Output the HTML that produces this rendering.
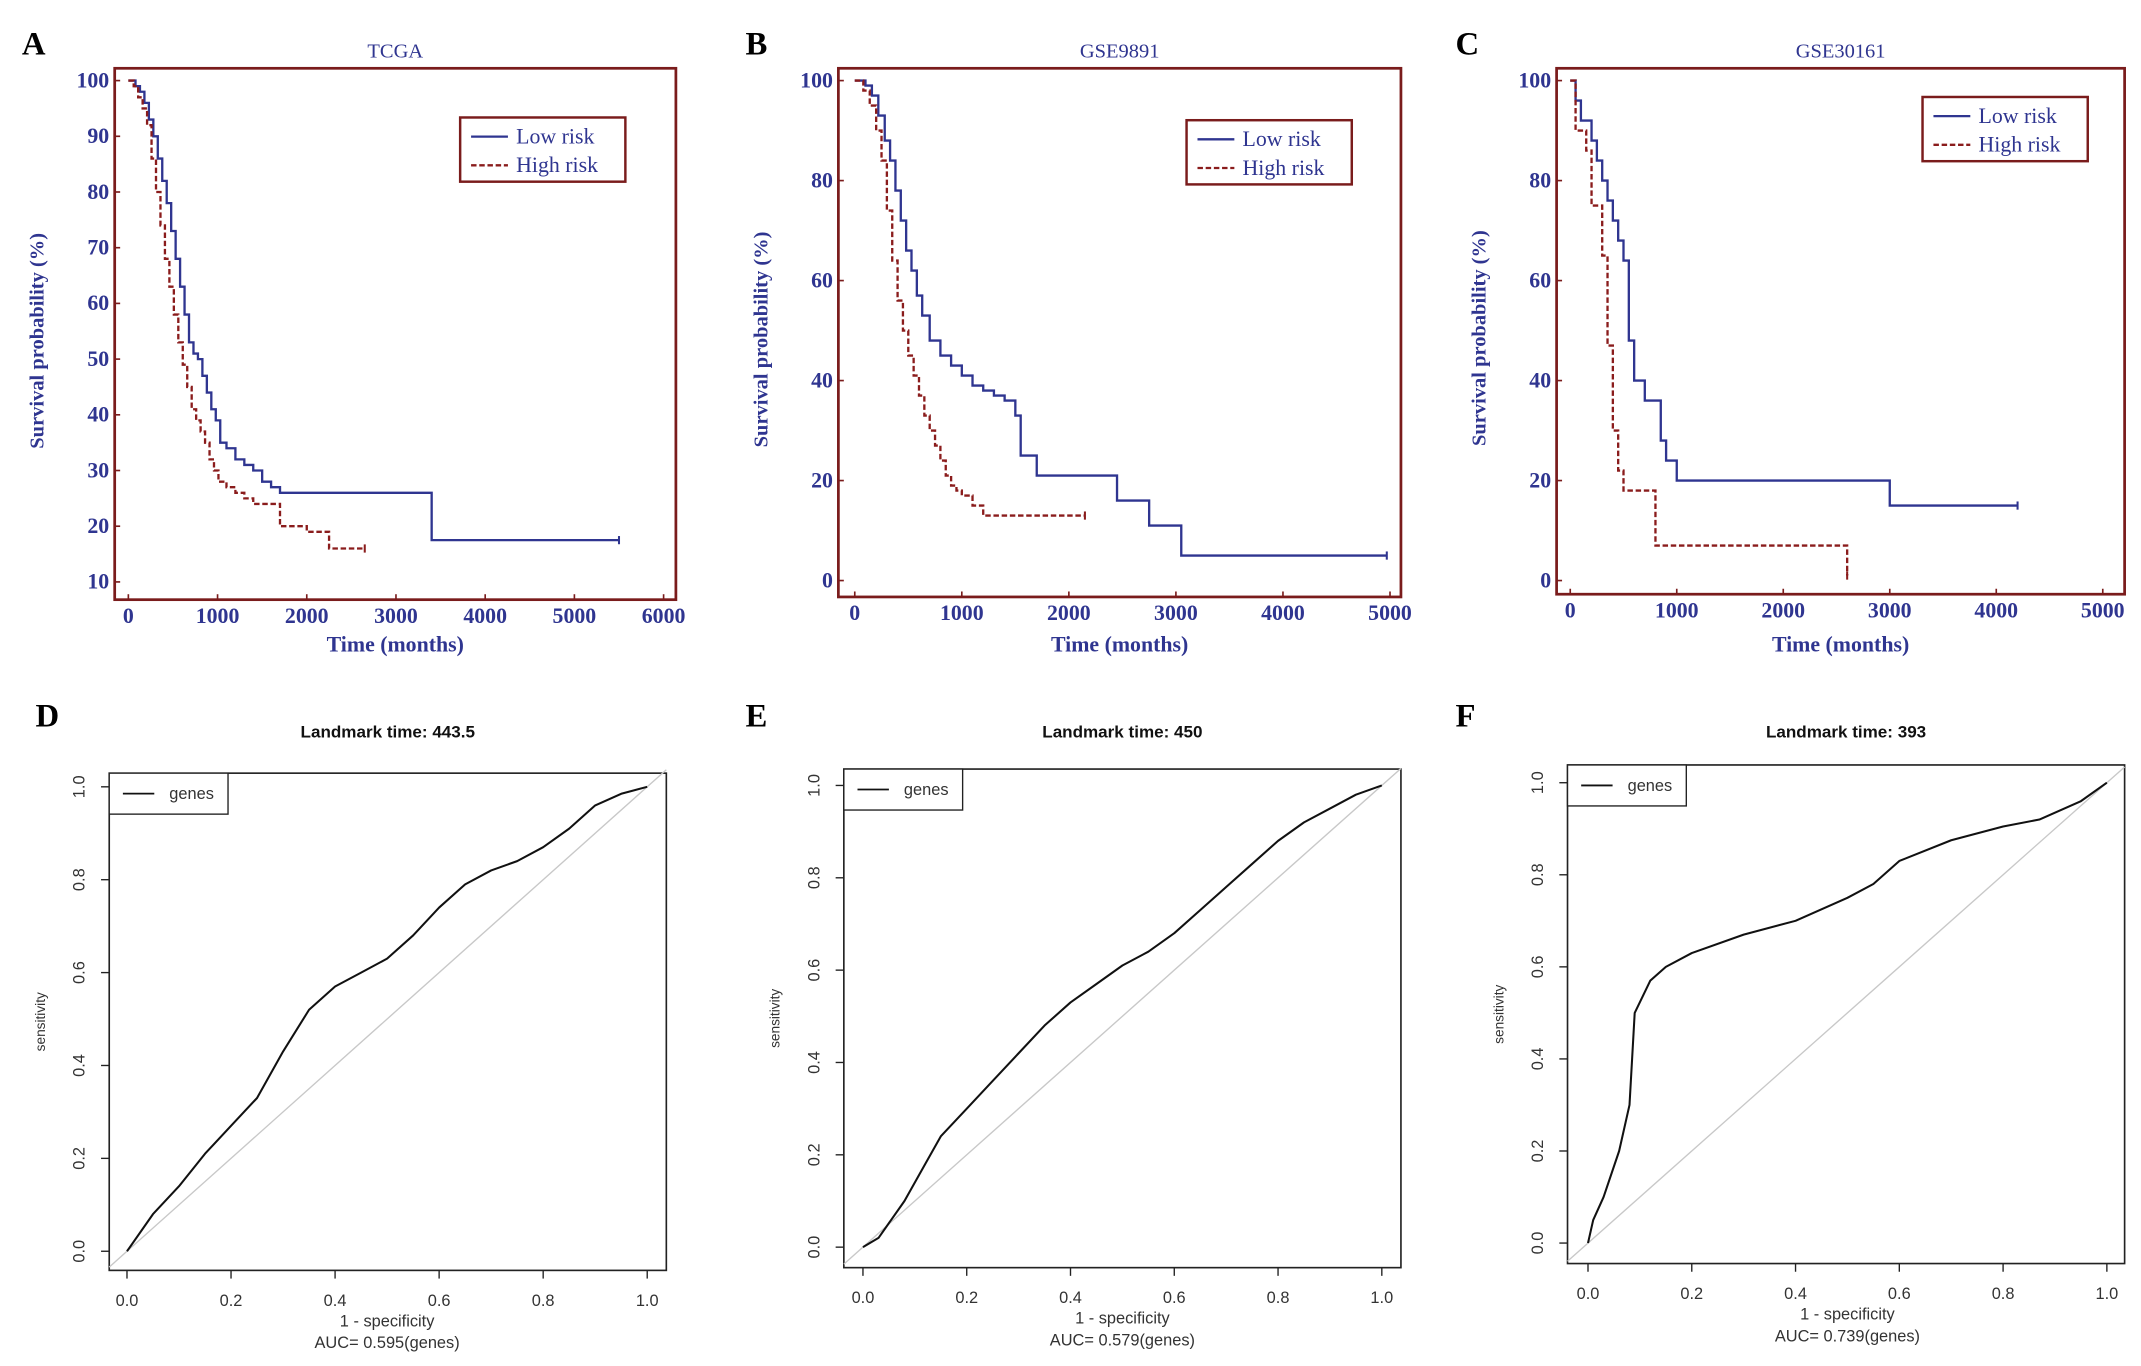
<!DOCTYPE html>
<html><head><meta charset="utf-8"><style>
html,body{margin:0;padding:0;background:#fff;}
svg{display:block;}
.ser{font-family:"Liberation Serif",serif;}
.san{font-family:"Liberation Sans",sans-serif;}
</style></head><body>
<svg id="fig" width="2141" height="1366" viewBox="0 0 1568 1000" preserveAspectRatio="none" xmlns="http://www.w3.org/2000/svg"></svg>
<script>
// ---- Kaplan-Meier data (time, survival %) ----
const aLowT=[0,80,130,180,230,280,330,380,430,480,530,580,630,680,730,780,830,880,930,980,1030,1100,1200,1300,1400,1500,1600,1700,3400,5500];
const aLowS=[100,99,98,96,93,90,86,82,78,73,68,63,58,53,51,50,47,44,41,39,35,34,32,31,30,28,27,26,17.5,17.5];
const aHighT=[0,60,110,160,210,260,310,360,410,460,510,560,610,660,710,760,810,860,910,960,1010,1100,1200,1300,1400,1600,1700,2000,2250,2650];
const aHighS=[100,99,97,95,92,86,80,74,68,63,58,53,49,45,41,39,37,35,32,30,28,27,26,25,24,24,20,19,16,16];
const bLowT=[0,100,160,220,280,330,380,430,480,530,580,630,700,800,900,1000,1100,1200,1300,1400,1500,1550,1700,2450,2750,3050,4970];
const bLowS=[100,99,97,93,88,84,78,72,66,62,57,53,48,45,43,41,39,38,37,36,33,25,21,16,11,5,5];
const bHighT=[0,80,140,200,250,300,350,400,450,500,550,600,650,700,750,800,850,900,950,1000,1100,1200,2150];
const bHighS=[100,98,95,90,84,74,64,56,50,45,41,37,33,30,27,24,21,19,18,17,15,13,13];
const cLowT=[0,50,100,200,250,300,350,400,450,500,550,600,700,850,900,1000,3000,4200];
const cLowS=[100,96,92,88,84,80,76,72,68,64,48,40,36,28,24,20,15,15];
const cHighT=[0,50,150,200,300,350,400,450,500,800,2600,2600];
const cHighS=[100,90,86,75,65,47,30,22,18,7,7,1];
const aYTicks=[10,20,30,40,50,60,70,80,90,100];
const bcYTicks=[0,20,40,60,80,100];
const aXTicks=[0,1000,2000,3000,4000,5000,6000];
const bcXTicks=[0,1000,2000,3000,4000,5000];
// ---- ROC data (1-specificity, sensitivity) ----
const dFpr=[0,0.05,0.1,0.15,0.2,0.25,0.3,0.35,0.4,0.45,0.5,0.55,0.6,0.65,0.7,0.75,0.8,0.85,0.9,0.95,1];
const dTpr=[0,0.08,0.14,0.21,0.27,0.33,0.43,0.52,0.57,0.60,0.63,0.68,0.74,0.79,0.82,0.84,0.87,0.91,0.96,0.985,1];
const eFpr=[0,0.03,0.08,0.12,0.15,0.2,0.25,0.3,0.35,0.4,0.45,0.5,0.55,0.6,0.65,0.7,0.75,0.8,0.85,0.9,0.95,1];
const eTpr=[0,0.02,0.1,0.18,0.24,0.3,0.36,0.42,0.48,0.53,0.57,0.61,0.64,0.68,0.73,0.78,0.83,0.88,0.92,0.95,0.98,1];
const fFpr=[0,0.01,0.03,0.06,0.08,0.09,0.12,0.15,0.2,0.3,0.4,0.5,0.55,0.6,0.7,0.8,0.87,0.95,1];
const fTpr=[0,0.05,0.1,0.2,0.3,0.5,0.57,0.6,0.63,0.67,0.7,0.75,0.78,0.83,0.875,0.905,0.92,0.96,1];
const rocTicks=[0,0.2,0.4,0.6,0.8,1.0];

const svg=document.getElementById('fig');
const NS='http://www.w3.org/2000/svg';
function mk(tag,attrs,parent,text){const e=document.createElementNS(NS,tag);for(const k in attrs)e.setAttribute(k,attrs[k]);if(text!==undefined)e.textContent=text;(parent||svg).appendChild(e);return e;}
const BLUE='#2f3590', RED='#8a1c1c', BOX='#7a1c1c';

function km(p){
  const g=mk('g',{});
  
  
  const X=t=>p.x0+(p.x1-p.x0)*(t-p.xmin)/(p.xmax-p.xmin);
  const Y=v=>p.y0+(p.y1-p.y0)*(v-p.ymin)/(p.ymax-p.ymin);
  const lab=mk('text',{x:p.lx,y:40,'font-size':24,'font-weight':'bold',class:'ser',fill:'#000'},g,p.letter);
  
  const t=mk('text',{x:(p.bl+p.br)/2,y:42,'font-size':15,class:'ser',fill:BLUE,'text-anchor':'middle'},g,p.title);
  
  const box=mk('rect',{x:p.bl,y:p.bt,width:p.br-p.bl,height:p.bb-p.bt,fill:'none',stroke:BOX,'stroke-width':2},g);
  
  p.yt.forEach(v=>{const y=Y(v);
    mk('line',{x1:p.bl,x2:p.bl+4,y1:y,y2:y,stroke:BOX,'stroke-width':1.2},g);
    const tx=mk('text',{x:p.bl-4,y:y+5,'font-size':16,'font-weight':'bold',class:'ser',fill:BLUE,'text-anchor':'end'},g,String(v));
    });
  p.xt.forEach(v=>{const x=X(v);
    mk('line',{x1:x,x2:x,y1:p.bb,y2:p.bb-4,stroke:BOX,'stroke-width':1.2},g);
    const tx=mk('text',{x:x,y:p.bb+17,'font-size':16,'font-weight':'bold',class:'ser',fill:BLUE,'text-anchor':'middle'},g,String(v));
    });
  const yl=mk('text',{x:0,y:0,'font-size':15,'font-weight':'bold',class:'ser',fill:BLUE,'text-anchor':'middle',transform:`translate(${p.bl-52},${(p.bt+p.bb)/2+5}) rotate(-90)`},g,'Survival probability (%)');
  
  const xl=mk('text',{x:(p.bl+p.br)/2,y:477,'font-size':16,'font-weight':'bold',class:'ser',fill:BLUE,'text-anchor':'middle'},g,'Time (months)');
  
  function step(T,S,color,dash,nm){
    let d=`M${X(T[0])},${Y(S[0])}`;
    for(let i=1;i<T.length;i++){d+=` H${X(T[i])} V${Y(S[i])}`;}
    const pa=mk('path',{d:d,fill:'none',stroke:color,'stroke-width':1.7,'stroke-dasharray':dash},g);
    
    const lx=X(T[T.length-1]),ly=Y(S[S.length-1]);
    mk('line',{x1:lx,x2:lx,y1:ly-3,y2:ly+3,stroke:color,'stroke-width':1.5},g);
  }
  step(p.lowT,p.lowS,BLUE,'none','low-risk-curve');
  step(p.highT,p.highS,RED,'4,2','high-risk-curve');
  const lg=mk('g',{},g);
  mk('rect',{x:p.gx,y:p.gy,width:121,height:47,fill:'#fff',stroke:BOX,'stroke-width':1.8},lg);
  mk('line',{x1:p.gx+8,x2:p.gx+35,y1:p.gy+14,y2:p.gy+14,stroke:BLUE,'stroke-width':1.7},lg);
  mk('line',{x1:p.gx+8,x2:p.gx+35,y1:p.gy+35,y2:p.gy+35,stroke:RED,'stroke-width':1.7,'stroke-dasharray':'4,2'},lg);
  const l1=mk('text',{x:p.gx+41,y:p.gy+19,'font-size':16,class:'ser',fill:BLUE},lg,'Low risk');
  
  const l2=mk('text',{x:p.gx+41,y:p.gy+40,'font-size':16,class:'ser',fill:BLUE},lg,'High risk');
  
}
km({name:'km-tcga',letter:'A',lx:16,title:'TCGA',bl:84,br:495,bt:50,bb:439,x0:94,x1:486,xmin:0,xmax:6000,y0:426,y1:59,ymin:10,ymax:100,yt:aYTicks,xt:aXTicks,lowT:aLowT,lowS:aLowS,highT:aHighT,highS:aHighS,gx:337,gy:86});
km({name:'km-gse9891',letter:'B',lx:546,title:'GSE9891',bl:614,br:1026,bt:50,bb:437,x0:626,x1:1018,xmin:0,xmax:5000,y0:425,y1:59,ymin:0,ymax:100,yt:bcYTicks,xt:bcXTicks,lowT:bLowT,lowS:bLowS,highT:bHighT,highS:bHighS,gx:869,gy:88});
km({name:'km-gse30161',letter:'C',lx:1066,title:'GSE30161',bl:1140,br:1556,bt:50,bb:435,x0:1150,x1:1540,xmin:0,xmax:5000,y0:425,y1:59,ymin:0,ymax:100,yt:bcYTicks,xt:bcXTicks,lowT:cLowT,lowS:cLowS,highT:cHighT,highS:cHighS,gx:1408,gy:71});

function roc(p){
  const g=mk('g',{});
  
  
  const X=v=>p.x0+(p.x1-p.x0)*v, Y=v=>p.y0+(p.y1-p.y0)*v;
  const lab=mk('text',{x:p.lx,y:532,'font-size':24,'font-weight':'bold',class:'ser',fill:'#000'},g,p.letter);
  
  const t=mk('text',{x:(p.bl+p.br)/2,y:540,'font-size':12.5,'font-weight':'bold',class:'san',fill:'#111','text-anchor':'middle'},g,p.title);
  
  const box=mk('rect',{x:p.bl,y:p.bt,width:p.br-p.bl,height:p.bb-p.bt,fill:'none',stroke:'#222','stroke-width':1.2},g);
  
  const dg=mk('line',{x1:p.bl,y1:Y((p.bl-p.x0)/(p.x1-p.x0)),x2:p.br,y2:Y((p.br-p.x0)/(p.x1-p.x0)),stroke:'#c8c8c8','stroke-width':1},g);
  
  rocTicks.forEach(v=>{
    mk('line',{x1:X(v),x2:X(v),y1:p.bb,y2:p.bb+6,stroke:'#222','stroke-width':1},g);
    const tx=mk('text',{x:X(v),y:p.bb+26,'font-size':12,class:'san',fill:'#333','text-anchor':'middle'},g,v.toFixed(1));
    
    mk('line',{x1:p.bl,x2:p.bl-6,y1:Y(v),y2:Y(v),stroke:'#222','stroke-width':1},g);
    const ty=mk('text',{x:0,y:0,'font-size':12,class:'san',fill:'#333','text-anchor':'middle',transform:`translate(${p.bl-18},${Y(v)}) rotate(-90)`},g,v.toFixed(1));
    
  });
  const xl=mk('text',{x:(X(0)+X(1))/2,y:p.bb+41,'font-size':12,class:'san',fill:'#333','text-anchor':'middle'},g,'1 - specificity');
  
  const au=mk('text',{x:(X(0)+X(1))/2,y:p.bb+57,'font-size':12,class:'san',fill:'#333','text-anchor':'middle'},g,p.auc);
  
  const yl=mk('text',{x:0,y:0,'font-size':10,class:'san',fill:'#333','text-anchor':'middle',transform:`translate(${p.bl-47},${(p.bt+p.bb)/2}) rotate(-90)`},g,'sensitivity');
  
  let d='';p.fpr.forEach((v,i)=>{d+=(i?' L':'M')+X(v)+','+Y(p.tpr[i]);});
  const c=mk('path',{d:d,fill:'none',stroke:'#111','stroke-width':1.5,'stroke-linejoin':'round'},g);
  
  const lg=mk('g',{},g);
  mk('rect',{x:p.bl,y:p.bt,width:87,height:30,fill:'#fff',stroke:'#222','stroke-width':1},lg);
  mk('line',{x1:p.bl+10,x2:p.bl+33,y1:p.bt+15,y2:p.bt+15,stroke:'#111','stroke-width':1.3},lg);
  const le=mk('text',{x:p.bl+44,y:p.bt+19,'font-size':12,class:'san',fill:'#333'},lg,'genes');
  
}
roc({name:'roc-tcga',letter:'D',lx:26,title:'Landmark time: 443.5',bl:80,br:488,bt:566,bb:930,x0:93,x1:474,y0:916,y1:576,fpr:dFpr,tpr:dTpr,auc:'AUC= 0.595(genes)'});
roc({name:'roc-gse9891',letter:'E',lx:546,title:'Landmark time: 450',bl:618,br:1026,bt:563,bb:928,x0:632,x1:1012,y0:913,y1:575,fpr:eFpr,tpr:eTpr,auc:'AUC= 0.579(genes)'});
roc({name:'roc-gse30161',letter:'F',lx:1066,title:'Landmark time: 393',bl:1148,br:1556,bt:560,bb:925,x0:1163,x1:1543,y0:910,y1:573,fpr:fFpr,tpr:fTpr,auc:'AUC= 0.739(genes)'});
</script>
</body></html>
